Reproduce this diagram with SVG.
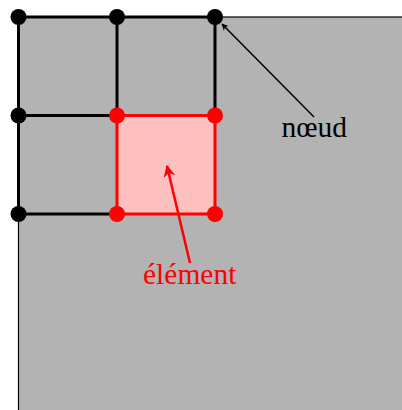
<svg xmlns="http://www.w3.org/2000/svg" width="402" height="410" viewBox="0 0 402 410">
<style>
.grid{stroke:#000;stroke-width:3;fill:none}
.nb{fill:#000}
.nr{fill:#ff0000}
.lbl{font-family:"Liberation Serif",serif;font-size:29.5px}
</style>
<defs>
<marker id="ahk" viewBox="0 0 10 10" refX="9" refY="5" markerWidth="7" markerHeight="7" orient="auto" markerUnits="userSpaceOnUse">
<path d="M0,0 L10,5 L0,10 L3,5 Z" fill="#000"/>
</marker>
<marker id="ahr" viewBox="0 0 10 10" refX="9" refY="5" markerWidth="12" markerHeight="12" orient="auto" markerUnits="userSpaceOnUse">
<path d="M0,0 L10,5 L0,10 L3,5 Z" fill="#ff0000"/>
</marker>
</defs>
<g id="domain">
<rect x="18.5" y="17" width="400" height="410" fill="#b3b3b3" stroke="#000" stroke-width="1.2"/>
</g>
<g id="mesh">
<path class="grid" d="M18.5,17 H215 M18.5,115.5 H117 M18.5,214 H117 M18.5,17 V214 M117,17 V115.5 M215,17 V115.5"/>
</g>
<g id="element">
<rect x="117" y="115.5" width="98" height="98.5" fill="#ffc0c0" stroke="#ff0000" stroke-width="3"/>
</g>
<g id="nodes">
<circle class="nb" cx="18.5" cy="17" r="8"/>
<circle class="nb" cx="117" cy="17" r="8"/>
<circle class="nb" cx="215" cy="17" r="8"/>
<circle class="nb" cx="18.5" cy="115.5" r="8"/>
<circle class="nb" cx="18.5" cy="214" r="8"/>
<circle class="nr" cx="117" cy="115.5" r="8"/>
<circle class="nr" cx="215" cy="115.5" r="8"/>
<circle class="nr" cx="117" cy="214" r="8"/>
<circle class="nr" cx="215" cy="214" r="8"/>
</g>
<g id="connectors">
<line x1="314" y1="117" x2="222" y2="24" stroke="#000" stroke-width="1.5" marker-end="url(#ahk)"/>
<line x1="190" y1="263" x2="167" y2="166" stroke="#ff0000" stroke-width="2.5" marker-end="url(#ahr)"/>
</g>
<g id="labels">
<text class="lbl" x="281.5" y="137" fill="#000">nœud</text>
<text class="lbl" x="143" y="284" fill="#ff0000">élément</text>
</g>
</svg>
